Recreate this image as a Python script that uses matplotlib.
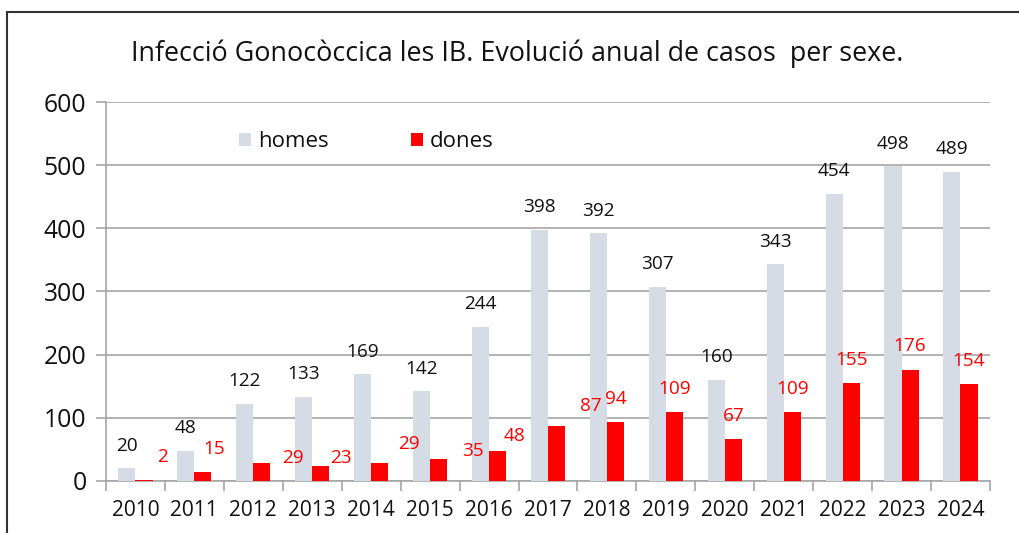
import matplotlib.pyplot as plt
import numpy as np
from matplotlib.patches import Rectangle

plt.rcParams['font.family'] = ['Open Sans', 'DejaVu Sans']

years = ['2010', '2011', '2012', '2013', '2014', '2015', '2016', '2017',
         '2018', '2019', '2020', '2021', '2022', '2023', '2024']
homes = [20, 48, 122, 133, 169, 142, 244, 398, 392, 307, 160, 343, 454, 498, 489]
dones = [2, 15, 29, 23, 29, 35, 48, 87, 94, 109, 67, 109, 155, 176, 154]

# label nudges for the women's values (as in the original chart)
dones_dx = [0.32, 0.19, 0.53, 0.34, 0.49, 0.59, 0.28, 0.59, 0, 0, 0, 0, 0, 0, 0]
dones_dy = [36, 36, 7, 13, 30, 12, 23, 32, 36, 37, 36, 37, 37, 38, 36]

c_homes = '#D6DCE5'
c_dones = '#FF0000'
grid_c = '#A6A6A6'
txt_c = '#111111'

fig = plt.figure(figsize=(10.19, 5.33), dpi=100)
ax = fig.add_axes([0.104, 0.0976, 0.8675, 0.711])

x = np.arange(len(years))
w = 0.29
ax.bar(x - 0.145, homes, w, color=c_homes, label='homes', zorder=3)
ax.bar(x + 0.145, dones, w, color=c_dones, label='dones', zorder=3)

for i in range(len(years)):
    ax.text(x[i] - 0.145, homes[i] + 36, str(homes[i]), ha='center', va='center',
            fontsize=13.7, color=txt_c, zorder=4)
    ax.text(x[i] + 0.145 + dones_dx[i], dones[i] + dones_dy[i], str(dones[i]),
            ha='center', va='center', fontsize=13.7, color=c_dones, zorder=4)

ax.set_xlim(-0.5, len(years) - 0.5)
ax.set_ylim(0, 600)
ax.set_yticks(range(0, 601, 100))
ax.yaxis.grid(True, color=grid_c, linewidth=1.2, zorder=0)
ax.set_axisbelow(True)

ax.set_xticks(x)
ax.set_xticklabels(years, fontsize=15, color=txt_c)
ax.set_xticks(np.arange(-0.5, len(years), 1), minor=True)
ax.tick_params(axis='x', which='major', length=0, pad=14)
ax.tick_params(axis='x', which='minor', length=7, color=grid_c, width=1.2)
ax.tick_params(axis='y', length=7, color=grid_c, width=1.2, labelsize=17.8,
               labelcolor=txt_c, pad=7)

for s in ['top', 'right']:
    ax.spines[s].set_visible(False)
for s in ['left', 'bottom']:
    ax.spines[s].set_color(grid_c)
    ax.spines[s].set_linewidth(1.2)

ax.legend(loc='upper left', bbox_to_anchor=(0.128, 0.975), ncol=2, frameon=False,
          fontsize=16, handlelength=0.55, handleheight=0.55, handletextpad=0.3,
          columnspacing=3.7, labelcolor=txt_c)

fig.text(0.508, 0.899, 'Infecció Gonocòccica les IB. Evolució anual de casos  per sexe.',
         ha='center', va='center', fontsize=19.4, color=txt_c)

# outer chart frame
fig.patches.append(Rectangle((0.0065, -0.05), 1.1, 1.028, transform=fig.transFigure,
                             fill=False, edgecolor='#333333', linewidth=1.5))

fig.savefig('out.png', dpi=100)
